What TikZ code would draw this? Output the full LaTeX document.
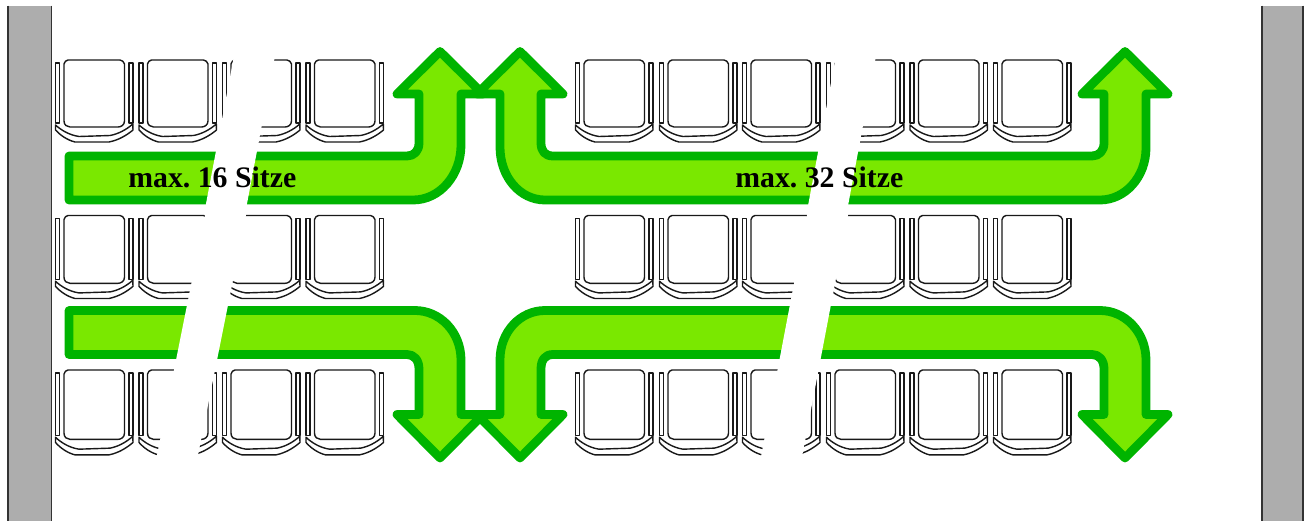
\documentclass[tikz,border=0pt]{standalone}
\usepackage{fontspec}
\setmainfont{Liberation Serif}
\frenchspacing
\definecolor{wallgray}{HTML}{ADADAD}
\definecolor{arrowdark}{HTML}{00B400}
\definecolor{arrowlight}{HTML}{7AE800}
\tikzset{
  x=0.02cm,y=-0.02cm,
  wallface/.style={fill=wallgray,draw=none},
  walledge/.style={draw=black!80,line width=0.85pt},
  flow/.style={fill=arrowlight,draw=arrowdark,line width=5pt,line join=round},
  gap/.style={fill=white,draw=none},
  lbl/.style={anchor=base west,inner sep=0pt,font=\fontsize{16.95pt}{18pt}\selectfont\bfseries},
  seatline/.style={draw=black!90,line width=0.8pt,fill=none,line join=round},
  seat/.pic={
    % cushion
    \draw[seatline] (13,0) -- (65,0) .. controls (67,0) and (69,2) .. (69.5,4) -- (69.5,61) .. controls (69.5,65) and (66,67) .. (63,67)
      -- (15,67) .. controls (12,67) and (9,65) .. (9,61) -- (9,4) .. controls (9.5,2) and (11,0) .. (13,0) -- cycle;
    % rails
    \draw[seatline] (0.5,3) rectangle (4.5,63);
    \draw[seatline] (74,3) rectangle (78,63);
    % base
    \draw[seatline] (0.5,65) .. controls (6,70) and (14,75) .. (24,76.5) -- (55,75.5)
      .. controls (63,74) and (71,70) .. (77.8,64) -- (78,70)
      .. controls (72,75) and (64,80) .. (54,82) -- (20,82)
      .. controls (12,80) and (5,75) .. (0.5,70) -- cycle;
  }
}
\begin{document}
\begin{tikzpicture}
\useasboundingbox (0,0) rectangle (1308,521);
\fill[white] (0,0) rectangle (1308,521);
% walls
\fill[wallface] (8,5.5) rectangle (51.5,521);
\fill[wallface] (1262,5.5) rectangle (1303,521);
\draw[walledge] (8,5.5) -- (8,521) (51.5,5.5) -- (51.5,521);
\draw[walledge] (1262,5.5) -- (1262,521) (1303,5.5) -- (1303,521);
% seats
\foreach \yy/\ys in {60/1,215.5/1.012,370/1.035}{
  \foreach \xx in {55,138.5,222,305.5,575,659,742,826,909.5,993}{
    \pic[yscale=\ys] at (\xx,\yy) {seat};
  }
}
% arrows
\draw[flow] (69,156) -- (407,156) .. controls (414,156) and (419,151) .. (419,143) -- (419,94) -- (397,94)
  -- (440,51.5) -- (483,94) -- (461,94) -- (461,145)
  .. controls (461,175) and (440,200) .. (413,200) -- (69,200) -- cycle;
\draw[flow] (69,354.5) -- (407,354.5) .. controls (414,354.5) and (419,360) .. (419,369) -- (419,414.5) -- (397,414.5)
  -- (440,458) -- (483,414.5) -- (461,414.5) -- (461,360)
  .. controls (461,332) and (440,310.5) .. (415,310.5) -- (69,310.5) -- cycle;
\draw[flow] (1092,156) .. controls (1099,156) and (1104,151) .. (1104,143) -- (1104,94) -- (1082,94)
  -- (1125,51.5) -- (1168,94) -- (1146,94) -- (1146,148)
  .. controls (1146,177) and (1125,200) .. (1100,200) -- (545,200)
  .. controls (520,200) and (500,177) .. (500,147) -- (500,94) -- (477,94)
  -- (520,51.5) -- (563,94) -- (541,94) -- (541,143)
  .. controls (541,151) and (545,156) .. (553,156) -- cycle;
\draw[flow] (1092,354.5) .. controls (1099,354.5) and (1104,360) .. (1104,369) -- (1104,414.5) -- (1082,414.5)
  -- (1125,458) -- (1168,414.5) -- (1146,414.5) -- (1146,360)
  .. controls (1146,332) and (1125,310.5) .. (1100,310.5) -- (545,310.5)
  .. controls (520,310.5) and (500,332) .. (500,360) -- (500,414.5) -- (477,414.5)
  -- (520,458) -- (563,414.5) -- (541,414.5) -- (541,369)
  .. controls (541,360) and (545,354.5) .. (553,354.5) -- cycle;
% slanted white gaps
\fill[gap] (234,56) -- (275,56) -- (246,209) -- (205,209) -- cycle;
\fill[gap] (206,210) -- (247,210) -- (196.6,462) -- (155.6,462) -- cycle;
\fill[gap] (836,56) -- (876,56) -- (847.4,209) -- (807.4,209) -- cycle;
\fill[gap] (808,210) -- (849,210) -- (801,462) -- (760,462) -- cycle;
% labels
\node[lbl] (lbl16) at (128,187) {max. 16 Sitze};
\node[lbl] (lbl32) at (735,187) {max. 32 Sitze};
\end{tikzpicture}
\end{document}
